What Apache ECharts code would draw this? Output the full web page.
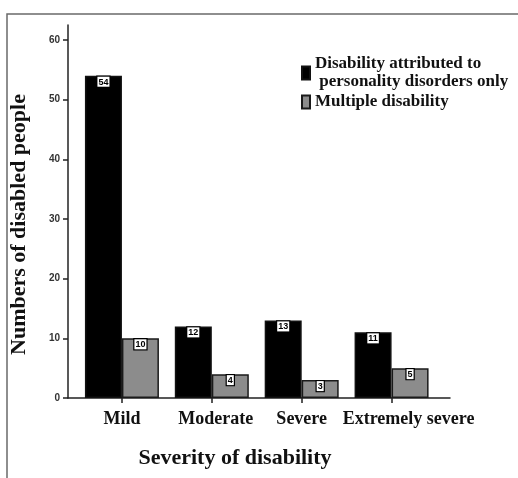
<!DOCTYPE html>
<html>
<head>
<meta charset="utf-8">
<script src="https://cdn.jsdelivr.net/npm/echarts@6/dist/echarts.min.js"></script>
<style>html,body{margin:0;padding:0;background:#fff;}#c{width:518px;height:478px;}</style>
</head>
<body>
<div id="c"></div>
<script>
var categories = ['Mild', 'Moderate', 'Severe', 'Extremely severe'];
var personalityOnly = [54, 12, 13, 11];
var multipleDisability = [10, 4, 3, 5];
var yTicks = [0, 10, 20, 30, 40, 50, 60];
var seriesNames = ['Disability attributed to\n personality disorders only', 'Multiple disability'];

var catPos = categories.map(function (_, i) { return i; });
function pairs(arr) { return arr.map(function (v, i) { return [i, v]; }); }

var serif = 'Liberation Serif';
var catFont = { fontFamily: serif, fontWeight: 'bold', fontSize: 18, color: '#111' };
var labelStyle = {
  show: true,
  position: 'insideTop',
  distance: 1,
  color: '#000',
  fontFamily: 'Liberation Sans',
  fontWeight: 'bold',
  fontSize: 9,
  backgroundColor: '#fff',
  borderColor: '#000',
  borderWidth: 1.2,
  padding: [1, 1, 0, 1]
};

var chart = echarts.init(document.getElementById('c'), null, { renderer: 'canvas' });
chart.setOption({
  backgroundColor: '#fff',
  animation: false,
  graphic: [{
    type: 'polyline',
    shape: { points: [[7, 478], [7, 14], [518, 14]] },
    style: { stroke: '#6a6a6a', lineWidth: 1.5, fill: null }
  }],
  legend: {
    orient: 'vertical',
    left: 296,
    top: 50,
    itemWidth: 8,
    itemHeight: 13,
    itemGap: 2,
    icon: 'rect',
    textStyle: { fontFamily: serif, fontWeight: 'bold', fontSize: 17, color: '#111', lineHeight: 18 },
    data: seriesNames
  },
  grid: { left: 65, right: 68, top: 25, bottom: 80 },
  xAxis: {
    type: 'value',
    min: -0.6,
    max: 3.65,
    splitLine: { show: false },
    axisLine: { show: true, onZero: false, lineStyle: { color: '#222', width: 1.5 } },
    axisTick: { show: true, customValues: catPos, length: 5, lineStyle: { color: '#222', width: 1.5 } },
    axisLabel: {
      customValues: catPos,
      hideOverlap: false,
      formatter: function (v) {
        var i = Math.round(v);
        return '{c' + i + '|' + categories[i] + '}';
      },
      rich: {
        c0: catFont,
        c1: Object.assign({ padding: [0, 0, 0, 8] }, catFont),
        c2: catFont,
        c3: Object.assign({ padding: [0, 0, 0, 34] }, catFont)
      },
      fontFamily: serif, fontWeight: 'bold', fontSize: 18, color: '#111', margin: 12
    },
    name: 'Severity of disability',
    nameLocation: 'middle',
    nameGap: 49,
    nameTextStyle: { fontFamily: serif, fontWeight: 'bold', fontSize: 22, color: '#111', padding: [0, 48, 0, 0] }
  },
  yAxis: {
    type: 'value',
    min: 0,
    max: 62.5,
    splitLine: { show: false },
    axisLine: { show: true, onZero: false, lineStyle: { color: '#222', width: 1.5 } },
    axisTick: { show: true, customValues: yTicks, length: 5, lineStyle: { color: '#222', width: 1.5 } },
    axisLabel: { customValues: yTicks, fontFamily: 'Liberation Sans', fontWeight: 'bold', fontSize: 10, color: '#333', margin: 8 },
    name: 'Numbers of disabled people',
    nameLocation: 'middle',
    nameGap: 38,
    nameTextStyle: { fontFamily: serif, fontWeight: 'bold', fontSize: 22, color: '#111', padding: [0, 26, 0, 0] }
  },
  series: [{
    name: seriesNames[0],
    type: 'bar',
    barWidth: 37,
    barGap: '0%',
    data: pairs(personalityOnly),
    itemStyle: { color: '#000', borderColor: '#111', borderWidth: 1.5 },
    label: labelStyle
  }, {
    name: seriesNames[1],
    type: 'bar',
    barWidth: 37,
    barGap: '0%',
    data: pairs(multipleDisability),
    itemStyle: { color: '#8c8c8c', borderColor: '#1a1a1a', borderWidth: 1.5 },
    label: labelStyle
  }]
});
</script>
</body>
</html>
